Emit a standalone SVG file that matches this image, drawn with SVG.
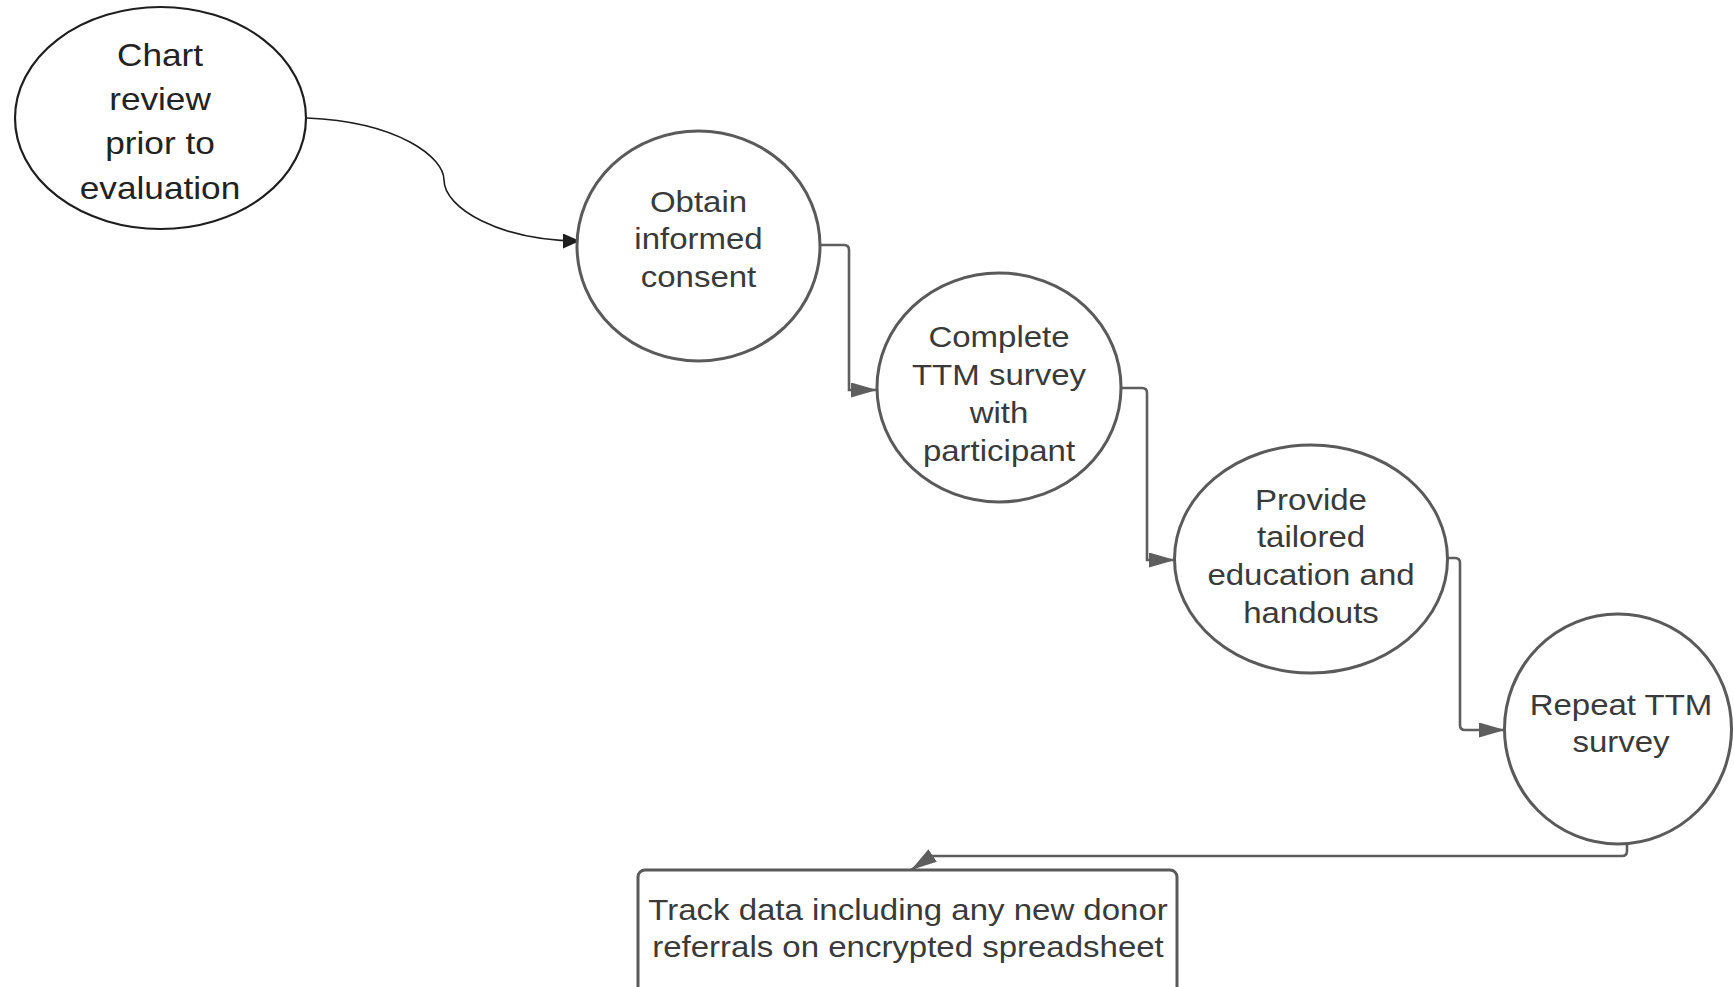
<svg xmlns="http://www.w3.org/2000/svg" width="1734" height="987" viewBox="0 0 1734 987">
  <style>
    .bg { fill: #ffffff; }
    .node-dark { fill: #ffffff; stroke: #1e1e1e; stroke-width: 2.2; }
    .node { fill: #ffffff; stroke: #5a5a5a; stroke-width: 3; }
    .lbl-dark { font-family: "Liberation Sans", Arial, sans-serif; font-size: 32px; fill: #222222; text-anchor: middle; }
    .lbl { font-family: "Liberation Sans", Arial, sans-serif; font-size: 30px; fill: #3a3a3a; text-anchor: middle; }
    .conn-dark { fill: none; stroke: #1e1e1e; stroke-width: 1.6; }
    .conn { fill: none; stroke: #5e5e5e; stroke-width: 2.6; }
  </style>
  <defs>
    <marker id="arrowDark" markerUnits="userSpaceOnUse" markerWidth="17" markerHeight="15" refX="17" refY="7.5" orient="auto">
      <path d="M0,0 L17,7.5 L0,15 Z" fill="#1e1e1e"/>
    </marker>
    <marker id="arrowGray" markerUnits="userSpaceOnUse" markerWidth="26" markerHeight="15" refX="26" refY="7.5" orient="auto">
      <path d="M0,0 L26,7.5 L0,15 Z" fill="#5e5e5e"/>
    </marker>
  </defs>
  <rect class="bg" x="0" y="0" width="1734" height="987"/>

  <g id="connectors">
    <path class="conn-dark" d="M307,118 C400,122 444,158 444,180 C444,208 500,241 580,241" marker-end="url(#arrowDark)"/>
    <path class="conn" d="M820,245 H844 Q849,245 849,250 V390 H877" marker-end="url(#arrowGray)"/>
    <path class="conn" d="M1121,388 H1142 Q1147,388 1147,393 V560 H1175" marker-end="url(#arrowGray)"/>
    <path class="conn" d="M1447,558 H1455 Q1460,558 1460,563 V725 Q1460,730 1465,730 H1505" marker-end="url(#arrowGray)"/>
    <path class="conn" d="M1627,844 V851 Q1627,856 1622,856 H932 L911,870" marker-end="url(#arrowGray)"/>
  </g>

  <g id="node-chart-review">
    <ellipse class="node-dark" cx="160.5" cy="118" rx="145.5" ry="111"/>
    <g transform="matrix(1.1 0 0 1 160 0)">
      <text class="lbl-dark" x="0" y="66">Chart</text>
      <text class="lbl-dark" x="0" y="110">review</text>
      <text class="lbl-dark" x="0" y="154">prior to</text>
      <text class="lbl-dark" x="0" y="199">evaluation</text>
    </g>
  </g>

  <g id="node-obtain-consent">
    <ellipse class="node" cx="698.5" cy="246" rx="121.5" ry="115"/>
    <g transform="matrix(1.1 0 0 1 698.5 0)">
      <text class="lbl" x="0" y="212">Obtain</text>
      <text class="lbl" x="0" y="249.5">informed</text>
      <text class="lbl" x="0" y="287">consent</text>
    </g>
  </g>

  <g id="node-complete-ttm">
    <ellipse class="node" cx="999" cy="387.5" rx="122" ry="114.5"/>
    <g transform="matrix(1.1 0 0 1 999 0)">
      <text class="lbl" x="0" y="347">Complete</text>
      <text class="lbl" x="0" y="385">TTM survey</text>
      <text class="lbl" x="0" y="423">with</text>
      <text class="lbl" x="0" y="461">participant</text>
    </g>
  </g>

  <g id="node-provide-education">
    <ellipse class="node" cx="1311" cy="559" rx="136.5" ry="114"/>
    <g transform="matrix(1.1 0 0 1 1311 0)">
      <text class="lbl" x="0" y="510">Provide</text>
      <text class="lbl" x="0" y="547.5">tailored</text>
      <text class="lbl" x="0" y="585">education and</text>
      <text class="lbl" x="0" y="623">handouts</text>
    </g>
  </g>

  <g id="node-repeat-ttm">
    <ellipse class="node" cx="1618" cy="729" rx="113.5" ry="115"/>
    <g transform="matrix(1.1 0 0 1 1621 0)">
      <text class="lbl" x="0" y="715">Repeat TTM</text>
      <text class="lbl" x="0" y="752">survey</text>
    </g>
  </g>

  <g id="node-track-data">
    <rect class="node" x="638" y="870" width="539" height="130" rx="7"/>
    <g transform="matrix(1.1 0 0 1 908 0)">
      <text class="lbl" x="0" y="920.5">Track data including any new donor</text>
      <text class="lbl" x="0" y="957.5">referrals on encrypted spreadsheet</text>
    </g>
  </g>
</svg>
